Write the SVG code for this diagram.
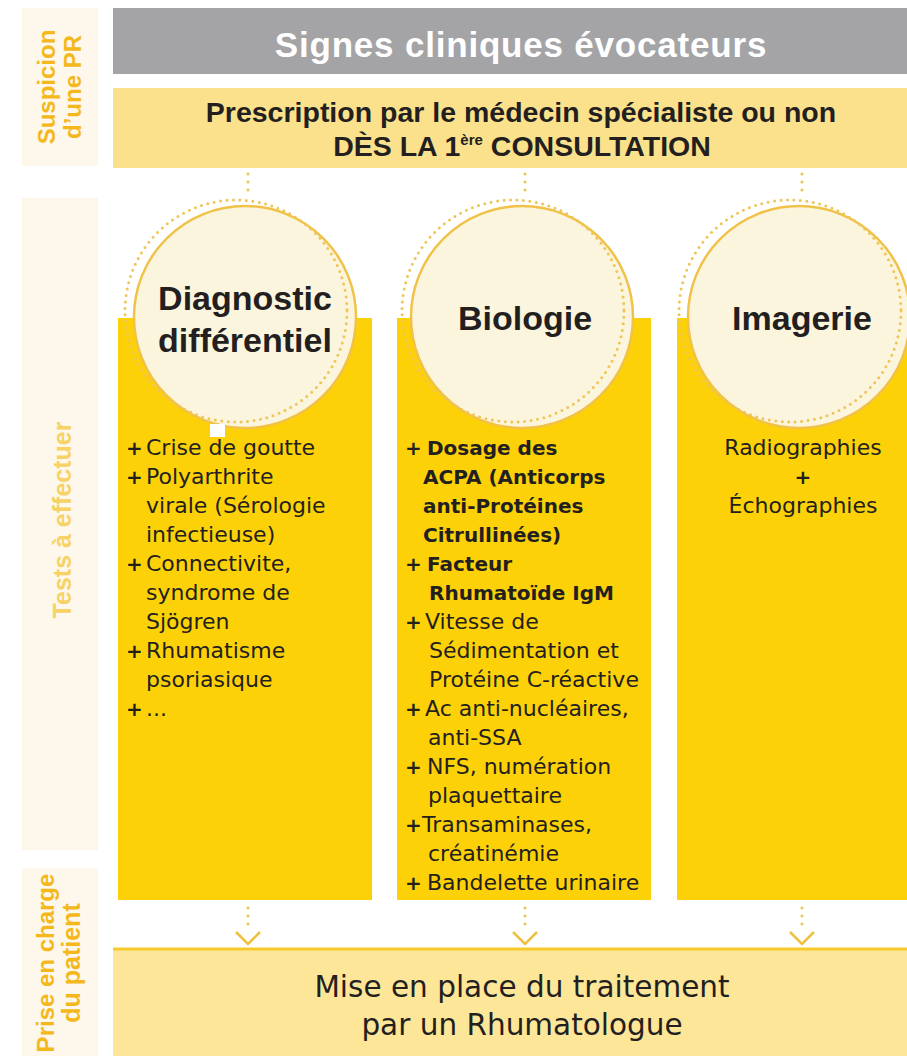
<svg xmlns="http://www.w3.org/2000/svg" width="907" height="1056" viewBox="0 0 907 1056">
  <defs>
    <style>
      .side { fill: #fdf8eb; }
      .sideTxt { font-family: "Liberation Sans", Arial, sans-serif; font-weight: bold; font-size: 24px; fill: #f4b81c; text-anchor: middle; }
      .head { font-family: "Liberation Sans", Arial, sans-serif; font-weight: bold; fill: #231f20; text-anchor: middle; }
      .col { fill: #fdd108; }
      .bubble { fill: #fcf5dd; stroke: #f0c24a; stroke-width: 2.5; }
      .ring { fill: none; stroke: #eec556; stroke-width: 3; stroke-linecap: round; stroke-dasharray: 0 6.5; }
      .body { font-family: "DejaVu Sans", Verdana, sans-serif; font-size: 22px; fill: #231f20; }
      .bold { font-weight: bold; font-size: 20px; }
      .plus { font-family: "DejaVu Sans", Verdana, sans-serif; font-weight: bold; font-size: 20px; fill: #231f20; }
      .dots { fill: none; stroke: #efc54e; stroke-width: 3; stroke-linecap: round; stroke-dasharray: 0 8; }
      .chev { fill: none; stroke: #efc03c; stroke-width: 2.5; stroke-linejoin: miter; }
    </style>
  </defs>

  <rect width="907" height="1056" fill="#ffffff"/>

  <!-- left-hand phase labels -->
  <g id="phase-suspicion">
    <rect class="side" x="22" y="8" width="76" height="158"/>
    <text class="sideTxt" transform="translate(55,87) rotate(-90)">Suspicion</text>
    <text class="sideTxt" transform="translate(81,87) rotate(-90)">d’une PR</text>
  </g>
  <g id="phase-tests">
    <rect class="side" x="22" y="198" width="76" height="652"/>
    <text class="sideTxt" style="fill:#f7d266;font-size:25px" transform="translate(71,520) rotate(-90)">Tests à effectuer</text>
  </g>
  <g id="phase-prise-en-charge">
    <rect class="side" x="22" y="868" width="76" height="188"/>
    <text class="sideTxt" transform="translate(54,963) rotate(-90)">Prise en charge</text>
    <text class="sideTxt" style="font-size:25px" transform="translate(80,963) rotate(-90)">du patient</text>
  </g>

  <!-- header bars -->
  <g id="signes">
    <rect x="113" y="8" width="794" height="66" fill="#a4a4a7"/>
    <text class="head" x="521" y="57" font-size="35" letter-spacing="0.8" fill="#ffffff" style="fill:#ffffff">Signes cliniques évocateurs</text>
  </g>
  <g id="prescription">
    <rect x="113" y="88" width="794" height="80" fill="#fbe18b"/>
    <text class="head" x="521" y="122" font-size="28.5">Prescription par le médecin spécialiste ou non</text>
    <text class="head" x="522" y="156" font-size="28.5">DÈS LA 1<tspan font-size="15" dy="-11">ère</tspan><tspan dy="11"> CONSULTATION</tspan></text>
  </g>

  <!-- column 1 -->
  <g id="diagnostic">
    <rect class="col" x="118" y="318" width="254" height="582"/>
    <circle class="bubble" cx="245" cy="317" r="111"/>
    <circle class="ring" cx="236" cy="311" r="111"/>
    <rect x="210" y="424" width="15" height="13" fill="#ffffff"/>
    <text class="head" x="245" y="310" font-size="34">Diagnostic</text>
    <text class="head" x="245" y="352" font-size="34">différentiel</text>
    <g class="body">
      <text class="plus" x="126" y="455">+</text><text x="146" y="455">Crise de goutte</text>
      <text class="plus" x="126" y="484">+</text><text x="146" y="484">Polyarthrite</text>
      <text x="146" y="513">virale (Sérologie</text>
      <text x="146" y="542">infectieuse)</text>
      <text class="plus" x="126" y="571">+</text><text x="146" y="571">Connectivite,</text>
      <text x="146" y="600">syndrome de</text>
      <text x="146" y="629">Sjögren</text>
      <text class="plus" x="126" y="658">+</text><text x="146" y="658">Rhumatisme</text>
      <text x="146" y="687">psoriasique</text>
      <text class="plus" x="126" y="716">+</text><text x="146" y="716">...</text>
    </g>
  </g>

  <!-- column 2 -->
  <g id="biologie">
    <rect class="col" x="397" y="318" width="254" height="582"/>
    <circle class="bubble" cx="522" cy="317" r="111"/>
    <circle class="ring" cx="513" cy="311" r="111"/>
    <text class="head" x="525" y="330" font-size="34">Biologie</text>
    <g class="body">
      <text class="plus" x="405" y="455">+</text><text class="bold" x="427" y="455">Dosage des</text>
      <text class="bold" x="423" y="484">ACPA (Anticorps</text>
      <text class="bold" x="423" y="513">anti-Protéines</text>
      <text class="bold" x="423" y="542">Citrullinées)</text>
      <text class="plus" x="405" y="571">+</text><text class="bold" x="427" y="571">Facteur</text>
      <text class="bold" x="429" y="600">Rhumatoïde IgM</text>
      <text class="plus" x="405" y="629">+</text><text x="425" y="629">Vitesse de</text>
      <text x="429" y="658">Sédimentation et</text>
      <text x="429" y="687">Protéine C-réactive</text>
      <text class="plus" x="405" y="716">+</text><text x="425" y="716">Ac anti-nucléaires,</text>
      <text x="428" y="745">anti-SSA</text>
      <text class="plus" x="405" y="774">+</text><text x="427" y="774">NFS, numération</text>
      <text x="428" y="803">plaquettaire</text>
      <text class="plus" x="405" y="832">+</text><text x="422" y="832">Transaminases,</text>
      <text x="428" y="861">créatinémie</text>
      <text class="plus" x="405" y="890">+</text><text x="427" y="890">Bandelette urinaire</text>
    </g>
  </g>

  <!-- column 3 -->
  <g id="imagerie">
    <rect class="col" x="677" y="318" width="230" height="582"/>
    <circle class="bubble" cx="799" cy="317" r="111"/>
    <circle class="ring" cx="790" cy="311" r="111"/>
    <text class="head" x="802" y="330" font-size="34">Imagerie</text>
    <g class="body" text-anchor="middle">
      <text x="803" y="455">Radiographies</text>
      <text class="plus" x="803" y="484">+</text>
      <text x="803" y="513">Échographies</text>
    </g>
  </g>

  <!-- treatment box -->
  <g id="traitement">
    <rect x="113" y="948" width="794" height="108" fill="#fde698"/>
    <line x1="113" y1="949" x2="907" y2="949" stroke="#f6c92c" stroke-width="3"/>
    <text class="body" x="522" y="997" font-size="29.5" text-anchor="middle" style="font-size:29.5px">Mise en place du traitement</text>
    <text class="body" x="522" y="1035" font-size="29.5" text-anchor="middle" style="font-size:29.5px">par un Rhumatologue</text>
  </g>

  <!-- connectors -->
  <g id="connectors">
    <line class="dots" x1="248" y1="174" x2="248" y2="198"/>
    <line class="dots" x1="525" y1="174" x2="525" y2="198"/>
    <line class="dots" x1="802" y1="174" x2="802" y2="198"/>
    <line class="dots" x1="248" y1="908" x2="248" y2="932"/>
    <line class="dots" x1="525" y1="908" x2="525" y2="932"/>
    <line class="dots" x1="802" y1="908" x2="802" y2="932"/>
    <polyline class="chev" points="236,932 248,944 260,932"/>
    <polyline class="chev" points="513,932 525,944 537,932"/>
    <polyline class="chev" points="790,932 802,944 814,932"/>
  </g>
</svg>
